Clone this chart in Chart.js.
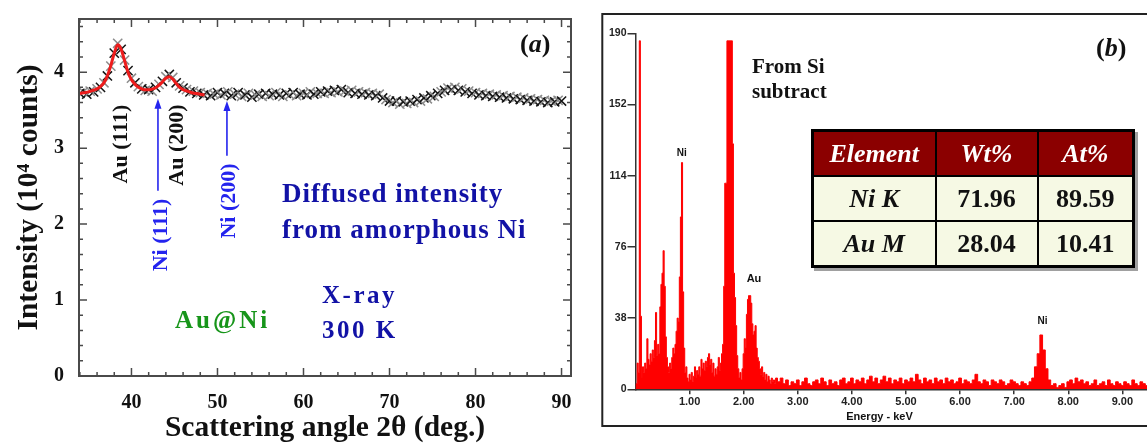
<!DOCTYPE html>
<html><head><meta charset="utf-8">
<script src="https://cdn.jsdelivr.net/npm/chart.js@4.4.0/dist/chart.umd.min.js"></script>
<style>
html,body{margin:0;padding:0;background:#fff;overflow:hidden}
#wrap{position:relative;width:1147px;height:443px;overflow:hidden;background:#fff}
canvas{position:absolute;top:0}
.t{position:absolute;white-space:nowrap;font-family:'Liberation Serif','Times New Roman',serif;font-weight:bold}
.r{position:absolute;white-space:nowrap;font-family:'Liberation Serif','Times New Roman',serif;font-weight:bold;transform:translate(-50%,-50%) rotate(-90deg)}
.s{position:absolute;white-space:nowrap;font-family:'Liberation Sans',Arial,sans-serif;font-weight:bold;transform:translate(-50%,-50%);color:#111}
#tbl{position:absolute;left:811px;top:129px;border-collapse:collapse;table-layout:fixed;border:3px solid #000;box-shadow:3px 3px 0 #a0a0a0;font-family:'Liberation Serif','Times New Roman',serif;font-weight:bold;font-size:26px}
#tbl th,#tbl td{border:2px solid #000;padding:0;text-align:center;height:43px;line-height:26px}
#tbl th{background:#8b0000;color:#fff;font-style:italic}
#tbl td{background:#f6f9e4;color:#111}
</style></head>
<body>
<div id="wrap">
<canvas id="cA" width="595" height="443" style="left:0"></canvas>
<canvas id="cB" width="640" height="443" style="left:595px"></canvas>

<div class="t" style="left:520px;top:30.7px;font-size:26px;line-height:26px;color:#111">(<i>a</i>)</div>
<div class="t" style="left:1096px;top:35.2px;font-size:26px;line-height:26px;color:#111">(<i>b</i>)</div>

<div class="r" style="left:120px;top:143.5px;font-size:22px;line-height:22px;color:#111">Au (111)</div>
<div class="r" style="left:175.5px;top:144.5px;font-size:22px;line-height:22px;color:#111">Au (200)</div>
<div class="r" style="left:159.5px;top:235px;font-size:22px;line-height:22px;color:#2424ee">Ni (111)</div>
<div class="r" style="left:227.5px;top:200.5px;font-size:22px;line-height:22px;color:#2424ee">Ni (200)</div>

<div class="t" style="left:282px;top:180.4px;font-size:27px;line-height:27px;letter-spacing:1px;color:#1212a6">Diffused intensity</div>
<div class="t" style="left:282px;top:215.9px;font-size:27px;line-height:27px;letter-spacing:1px;color:#1212a6">from amorphous Ni</div>
<div class="t" style="left:322px;top:282.4px;font-size:25px;line-height:25px;letter-spacing:2.5px;color:#1212a6">X-ray</div>
<div class="t" style="left:322px;top:317.4px;font-size:25px;line-height:25px;letter-spacing:2.5px;color:#1212a6">300 K</div>
<div class="t" style="left:175px;top:307.4px;font-size:25px;line-height:25px;letter-spacing:3px;color:#17951a">Au@Ni</div>

<div class="t" style="left:752px;top:55.7px;font-size:21px;line-height:21px;color:#111">From Si</div>
<div class="t" style="left:752px;top:80.7px;font-size:21px;line-height:21px;color:#111">subtract</div>

<div class="s" style="left:681.7px;top:151.7px;font-size:10px">Ni</div>
<div class="s" style="left:754px;top:278px;font-size:11px">Au</div>
<div class="s" style="left:1042.5px;top:320px;font-size:10px">Ni</div>
<div class="s" style="left:879.5px;top:416px;font-size:11px">Energy - keV</div>

<table id="tbl">
<colgroup><col style="width:123px"><col style="width:102px"><col style="width:96px"></colgroup>
<tr><th>Element</th><th>Wt%</th><th>At%</th></tr>
<tr><td><i>Ni K</i></td><td>71.96</td><td>89.59</td></tr>
<tr><td><i>Au M</i></td><td>28.04</td><td>10.41</td></tr>
</table>
</div>

<script>
// ---------- Panel (a): XRD data ----------
const xrdAngle = [
34.0,34.4,34.8,35.2,35.6,36.0,36.4,36.8,37.2,37.6,
38.0,38.4,38.8,39.2,39.6,40.0,40.4,40.8,41.2,41.6,
42.0,42.4,42.8,43.2,43.6,44.0,44.4,44.8,45.2,45.6,
46.0,46.4,46.8,47.2,47.6,48.0,48.4,48.8,49.2,49.6,
50.0,50.4,50.8,51.2,51.6,52.0,52.4,52.8,53.2,53.6,
54.0,54.4,54.8,55.2,55.6,56.0,56.4,56.8,57.2,57.6,
58.0,58.4,58.8,59.2,59.6,60.0,60.4,60.8,61.2,61.6,
62.0,62.4,62.8,63.2,63.6,64.0,64.4,64.8,65.2,65.6,
66.0,66.4,66.8,67.2,67.6,68.0,68.4,68.8,69.2,69.6,
70.0,70.4,70.8,71.2,71.6,72.0,72.4,72.8,73.2,73.6,
74.0,74.4,74.8,75.2,75.6,76.0,76.4,76.8,77.2,77.6,
78.0,78.4,78.8,79.2,79.6,80.0,80.4,80.8,81.2,81.6,
82.0,82.4,82.8,83.2,83.6,84.0,84.4,84.8,85.2,85.6,
86.0,86.4,86.8,87.2,87.6,88.0,88.4,88.8,89.2,89.6,
90.0];
const xrdIntensity = [
3.72,3.74,3.71,3.75,3.74,3.78,3.80,3.86,3.95,4.08,
4.25,4.38,4.30,4.16,4.02,3.92,3.86,3.81,3.78,3.76,
3.77,3.75,3.80,3.84,3.88,3.94,3.97,3.93,3.86,3.82,
3.79,3.77,3.74,3.75,3.72,3.73,3.70,3.72,3.69,3.71,
3.73,3.70,3.72,3.74,3.69,3.71,3.73,3.68,3.70,3.72,
3.67,3.70,3.71,3.68,3.72,3.69,3.71,3.73,3.70,3.68,
3.72,3.70,3.73,3.69,3.71,3.72,3.70,3.74,3.71,3.72,
3.74,3.72,3.75,3.73,3.76,3.74,3.77,3.75,3.73,3.76,
3.72,3.74,3.71,3.73,3.70,3.72,3.69,3.71,3.66,3.64,
3.62,3.60,3.62,3.58,3.61,3.59,3.62,3.60,3.64,3.62,
3.66,3.65,3.69,3.68,3.72,3.74,3.76,3.79,3.77,3.80,
3.76,3.78,3.74,3.75,3.72,3.73,3.70,3.72,3.69,3.71,
3.68,3.70,3.67,3.69,3.66,3.68,3.65,3.67,3.64,3.66,
3.63,3.65,3.62,3.64,3.61,3.63,3.60,3.62,3.61,3.63,
3.62];
const fitAngle = [34.0,34.5,35.0,35.5,36.0,36.5,37.0,37.5,38.0,38.4,38.8,39.2,39.6,40.0,40.5,41.0,41.5,42.0,42.5,43.0,43.5,44.0,44.4,44.8,45.2,45.6,46.0,46.5,47.0,47.5,48.0,48.5];
const fitIntensity = [3.72,3.73,3.74,3.76,3.78,3.82,3.90,4.05,4.25,4.36,4.30,4.15,4.00,3.90,3.83,3.79,3.77,3.77,3.78,3.81,3.86,3.92,3.94,3.91,3.85,3.80,3.77,3.75,3.73,3.72,3.71,3.70];
const xrdXTicks = [40,50,60,70,80,90];
const xrdYTicks = [0,1,2,3,4];
const xrdXMinorStep = 2, xrdYMinorStep = 0.2;
// Ni reflection arrows (2θ, from intensity, to intensity)
const arrowAngle = [43.08, 51.1];
const arrowFrom  = [2.44, 2.90];
const arrowTo    = [3.65, 3.62];

// ---------- Panel (b): EDS spectrum ----------
const edsEnergyLow = [0.00,0.02,0.04,0.06,0.08,0.10,0.12,0.14,0.16,0.18,0.20,0.22,0.24,0.26,0.28,0.30,0.32,0.34,0.36,0.38,0.40,0.42,0.44,0.46,0.48,0.50,0.52,0.54,0.56,0.58,0.60,0.62,0.64,0.66,0.68,0.70,0.72,0.74,0.76,0.78,0.80,0.82,0.84,0.86,0.88,0.90,0.92,0.94,0.96,0.98,1.00,1.02,1.04,1.06,1.08,1.10,1.12,1.14,1.16,1.18,1.20,1.22,1.24,1.26,1.28,1.30,1.32,1.34,1.36,1.38,1.40,1.42,1.44,1.46,1.48,1.50,1.52,1.54,1.56,1.58,1.60,1.62,1.64,1.66,1.68,1.70,1.72,1.74,1.76,1.78,1.80,1.82,1.84,1.86,1.88,1.90,1.92,1.94,1.96,1.98,2.00,2.02,2.04,2.06,2.08,2.10,2.12,2.14,2.16,2.18,2.20,2.22,2.24,2.26,2.28,2.30,2.32,2.34,2.36,2.38,2.40,2.42,2.44,2.46,2.48,2.50,2.52,2.54,2.56,2.58,2.60];
const edsCountsLow = [
0,3,14,9,186,39,6,12,9,14,
11,27,16,13,19,15,21,17,26,41,
18,24,19,44,56,62,74,55,28,17,
12,9,14,11,17,22,19,24,31,38,
36,60,92,121,52,22,9,12,6,4,
8,5,9,4,7,12,6,10,8,12,
7,16,11,14,10,15,12,17,19,13,
16,9,14,7,11,8,12,17,10,14,
19,24,55,110,110,186,186,186,186,186,
131,62,49,34,18,11,6,9,5,11,
19,27,22,40,48,50,50,46,35,29,
31,34,22,17,15,11,8,12,7,9,
5,8,4,7,5,3,6,4,5,3,
6];
const edsEnergyHigh = [2.65,2.70,2.75,2.80,2.85,2.90,2.95,3.00,3.05,3.10,3.15,3.20,3.25,3.30,3.35,3.40,3.45,3.50,3.55,3.60,3.65,3.70,3.75,3.80,3.85,3.90,3.95,4.00,4.05,4.10,4.15,4.20,4.25,4.30,4.35,4.40,4.45,4.50,4.55,4.60,4.65,4.70,4.75,4.80,4.85,4.90,4.95,5.00,5.05,5.10,5.15,5.20,5.25,5.30,5.35,5.40,5.45,5.50,5.55,5.60,5.65,5.70,5.75,5.80,5.85,5.90,5.95,6.00,6.05,6.10,6.15,6.20,6.25,6.30,6.35,6.40,6.45,6.50,6.55,6.60,6.65,6.70,6.75,6.80,6.85,6.90,6.95,7.00,7.05,7.10,7.15,7.20,7.25,7.30,7.35,7.40,7.45,7.50,7.55,7.60,7.65,7.70,7.75,7.80,7.85,7.90,7.95,8.00,8.05,8.10,8.15,8.20,8.25,8.30,8.35,8.40,8.45,8.50,8.55,8.60,8.65,8.70,8.75,8.80,8.85,8.90,8.95,9.00,9.05,9.10,9.15,9.20,9.25,9.30,9.35,9.40,9.45,9.50,9.55,9.60,9.65,9.70,9.75,9.80,9.85,9.90,9.95,10.00,10.05,10.10,10.15,10.20,10.25,10.30,10.35,10.40];
const edsCountsHigh = [
4,6,3,5,2,4,3,5,2,4,
6,3,2,4,5,3,6,4,2,5,
3,4,2,5,6,3,4,6,3,5,
4,6,3,5,7,4,6,3,5,7,
4,6,3,5,4,6,3,5,4,6,
4,8,5,3,6,4,5,3,6,4,
5,3,6,4,5,3,4,6,3,5,
4,3,5,8,4,3,5,4,2,5,
4,3,5,4,2,3,5,4,3,2,
4,3,2,4,6,12,19,29,21,11,
5,2,3,1,2,3,1,4,5,3,
6,4,5,3,4,2,3,5,2,3,
4,2,5,3,2,4,3,2,4,3,
2,5,3,2,4,3,2,4,3,2,
4,3,2,3,4,2,3,2,3,2,
3,2,3,2,3,2];
const edsXTicks = [1,2,3,4,5,6,7,8,9,10];
const edsYTicks = [0,38,76,114,152,190];

// ---------- rendering ----------
const SERIF = "'Liberation Serif','Times New Roman',serif";
const SANS = "'Liberation Sans',Arial,sans-serif";

const frameA = {
  id: 'frameA',
  afterDatasetsDraw(chart) {
    const {ctx, chartArea: a, scales: {x, y}} = chart;
    ctx.save();
    ctx.strokeStyle = '#4a4a4a';
    ctx.lineWidth = 1.5;
    ctx.beginPath();
    const seg = (x0, y0, x1, y1) => { ctx.moveTo(x0, y0); ctx.lineTo(x1, y1); };
    for (let v = Math.ceil(x.min / xrdXMinorStep) * xrdXMinorStep; v <= x.max; v += xrdXMinorStep) {
      const p = x.getPixelForValue(v);
      const len = xrdXTicks.includes(v) ? 8 : 4;
      seg(p, a.bottom, p, a.bottom - len);
      seg(p, a.top, p, a.top + len);
    }
    for (let k = 0; k * xrdYMinorStep <= y.max + 1e-9; k++) {
      const v = +(k * xrdYMinorStep).toFixed(3);
      const p = y.getPixelForValue(v);
      const len = xrdYTicks.includes(v) ? 8 : 4;
      seg(a.left, p, a.left + len, p);
      seg(a.right, p, a.right - len, p);
    }
    ctx.stroke();
    ctx.lineWidth = 2;
    ctx.strokeRect(a.left, a.top, a.right - a.left, a.bottom - a.top);
    // arrows
    ctx.strokeStyle = '#2424ee';
    ctx.fillStyle = '#2424ee';
    ctx.lineWidth = 1.6;
    arrowAngle.forEach((v, i) => {
      const px = x.getPixelForValue(v);
      const y0 = y.getPixelForValue(arrowFrom[i]);
      const y1 = y.getPixelForValue(arrowTo[i]);
      ctx.beginPath(); ctx.moveTo(px, y0); ctx.lineTo(px, y1 + 6); ctx.stroke();
      ctx.beginPath(); ctx.moveTo(px, y1); ctx.lineTo(px - 3.5, y1 + 10); ctx.lineTo(px + 3.5, y1 + 10); ctx.closePath(); ctx.fill();
    });
    ctx.restore();
  }
};

new Chart(document.getElementById('cA'), {
  type: 'scatter',
  data: {
    datasets: [
      {
        label: 'Fit',
        data: fitAngle.map((a, i) => ({x: a, y: fitIntensity[i]})),
        showLine: true, borderColor: '#ee1c1c', borderWidth: 3, pointRadius: 0,
        cubicInterpolationMode: 'monotone', order: 0
      },
      {
        label: 'XRD',
        data: xrdAngle.map((a, i) => ({x: a, y: xrdIntensity[i]})),
        showLine: false, pointStyle: 'crossRot', pointRadius: 6.5, pointBorderWidth: 1.5,
        pointBorderColor: c => (c.dataIndex % 2 ? '#8c8c8c' : '#141414'),
        pointBackgroundColor: 'transparent', order: 1
      }
    ]
  },
  options: {
    responsive: false, animation: false, events: [],
    layout: {padding: {top: 14, right: 24, left: 0, bottom: 0}},
    plugins: {legend: {display: false}, tooltip: {enabled: false}},
    scales: {
      x: {
        type: 'linear', min: 33.9, max: 91.1,
        grid: {display: false}, border: {display: false},
        afterBuildTicks: s => { s.ticks = xrdXTicks.map(v => ({value: v})); },
        afterFit: s => { s.height = 67; },
        ticks: {font: {family: SERIF, weight: 'bold', size: 20}, color: '#111', padding: 7, maxRotation: 0},
        title: {display: true, text: 'Scattering angle 2θ (deg.)', color: '#111',
          font: {family: SERIF, weight: 'bold', size: 29.5, lineHeight: 1}, padding: {top: 0, bottom: 0}}
      },
      y: {
        type: 'linear', min: 0, max: 4.7,
        grid: {display: false}, border: {display: false},
        afterBuildTicks: s => { s.ticks = xrdYTicks.map(v => ({value: v})); },
        afterFit: s => { s.width = 79; },
        ticks: {font: {family: SERIF, weight: 'bold', size: 20}, color: '#111', padding: 7},
        title: {display: true, text: 'Intensity (10⁴ counts)', color: '#111',
          font: {family: SERIF, weight: 'bold', size: 29.5, lineHeight: 1}, padding: {top: 14.5, bottom: 0}}
      }
    }
  },
  plugins: [frameA]
});

const frameB = {
  id: 'frameB',
  afterDraw(chart) {
    const {ctx} = chart;
    ctx.save();
    ctx.strokeStyle = '#222';
    ctx.lineWidth = 2;
    ctx.strokeRect(7.3, 14, 800, 412);
    ctx.restore();
  }
};

const spectrum = edsEnergyLow.map((e, i) => ({x: e, y: edsCountsLow[i]}))
  .concat(edsEnergyHigh.map((e, i) => ({x: e, y: edsCountsHigh[i]})));

new Chart(document.getElementById('cB'), {
  type: 'line',
  data: {
    datasets: [{
      label: 'EDS', data: spectrum, stepped: 'middle', fill: 'origin',
      backgroundColor: '#ff0000', borderColor: '#ff0000', borderWidth: 1, pointRadius: 0
    }]
  },
  options: {
    responsive: false, animation: false, events: [],
    layout: {padding: {top: 33.3, right: 36.9, left: 0, bottom: 0}},
    plugins: {legend: {display: false}, tooltip: {enabled: false}},
    scales: {
      x: {
        type: 'linear', min: 0, max: 10.4,
        afterBuildTicks: s => { s.ticks = edsXTicks.map(v => ({value: v})); },
        afterFit: s => { s.height = 53.7; },
        grid: {display: true, drawOnChartArea: false, drawTicks: true, tickLength: 5, color: '#333', lineWidth: 1.5},
        border: {display: true, color: '#333', width: 1.5},
        ticks: {font: {family: SANS, weight: 'bold', size: 11}, color: '#222', padding: 1, maxRotation: 0,
          callback: v => Number(v).toFixed(2)}
      },
      y: {
        type: 'linear', min: 0, max: 190,
        afterBuildTicks: s => { s.ticks = edsYTicks.map(v => ({value: v})); },
        afterFit: s => { s.width = 40.5; },
        grid: {display: true, drawOnChartArea: false, drawTicks: true, tickLength: 8, color: '#333', lineWidth: 1.5},
        border: {display: true, color: '#333', width: 1.5},
        ticks: {font: {family: SANS, weight: 'bold', size: 10.5}, color: '#222', padding: 1,
          callback: v => String(v)}
      }
    }
  },
  plugins: [frameB]
});
</script>
</body></html>
